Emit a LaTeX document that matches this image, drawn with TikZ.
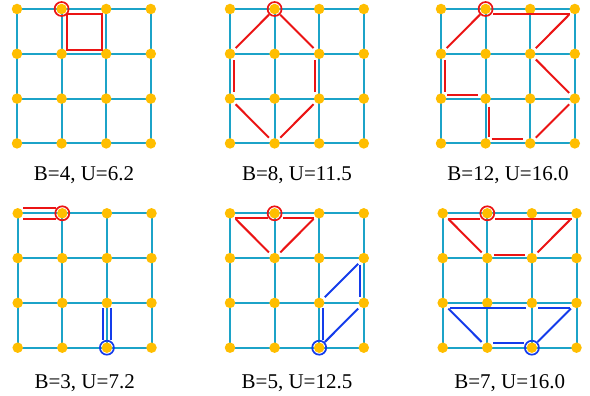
\documentclass[tikz,border=0pt]{standalone}
\usepackage{fontspec}
\setmainfont{Liberation Serif}
\usetikzlibrary{calc,backgrounds}
\definecolor{gridc}{RGB}{28,163,200}
\definecolor{dotc}{RGB}{255,190,0}
\definecolor{redc}{RGB}{235,20,20}
\definecolor{bluec}{RGB}{20,60,235}
\tikzset{
 gridline/.style={gridc, line width=2pt},
 dot/.style={circle, fill=dotc, draw=none, minimum size=10.5pt, inner sep=0pt, outer sep=0pt},
 rl/.style={redc, line width=2pt},
 bl/.style={bluec, line width=2pt},
 startred/.style={circle, draw=redc, line width=1.7pt, minimum size=14pt, inner sep=0pt},
 startblue/.style={circle, draw=bluec, line width=1.7pt, minimum size=14pt, inner sep=0pt},
 lab/.style={anchor=base, font=\fontsize{21}{24}\selectfont, inner sep=0pt},
}
\newcommand\sg[7]{\draw[#1] ($(#2.center)!#6pt!(#3.center)+(#4,#5)$) -- ($(#3.center)!#7pt!(#2.center)+(#4,#5)$);}
\begin{document}
\begin{tikzpicture}[x=1pt,y=-1pt]
\useasboundingbox (0,0) rectangle (590,396);
% dots
\foreach \p/\ox/\oy in {1/17/9,2/230/9,3/441/9,4/17.7/213.3,5/230/213.3,6/442.7/213.3}{
  \foreach \i in {0,...,3}{\foreach \j in {0,...,3}{
     \node[dot] (p\p-\i-\j) at ({\ox+44.6*\i},{\oy+44.8*\j}) {};
  }}
}
% grid lines
\begin{scope}[on background layer]
\foreach \p in {1,...,6}{
  \foreach \a/\b in {0/1,1/2,2/3}{\foreach \k in {0,...,3}{
    \draw[gridline] (p\p-\a-\k.center) -- (p\p-\b-\k.center);
    \draw[gridline] (p\p-\k-\a.center) -- (p\p-\k-\b.center);
  }}
}
\end{scope}
% panel 1
\draw[rl] ($(p1-1-0.center)+(5,5)$) -- ($(p1-2-0.center)+(-4.5,5)$) -- ($(p1-2-1.center)+(-4.5,-4)$) -- ($(p1-1-1.center)+(5,-4)$) -- cycle;
% panel 2
\sg{rl}{p2-1-0}{p2-0-1}{0}{0}{8}{8}
\sg{rl}{p2-0-1}{p2-0-2}{4}{0}{6.5}{6.5}
\sg{rl}{p2-0-2}{p2-1-3}{0}{0}{8}{8}
\sg{rl}{p2-1-3}{p2-2-2}{0}{0}{8}{8}
\sg{rl}{p2-2-2}{p2-2-1}{-4}{0}{6.5}{6.5}
\sg{rl}{p2-2-1}{p2-1-0}{0}{0}{8}{8}
% panel 3
\sg{rl}{p3-1-0}{p3-0-1}{0}{0}{8}{8}
\sg{rl}{p3-0-1}{p3-0-2}{4}{0}{6}{7}
\sg{rl}{p3-0-2}{p3-1-2}{0}{-4}{6}{8}
\sg{rl}{p3-1-2}{p3-1-3}{3.5}{0}{8}{6}
\sg{rl}{p3-1-3}{p3-2-3}{0}{-4}{6}{7}
\sg{rl}{p3-2-3}{p3-3-2}{0}{0}{8}{8}
\sg{rl}{p3-3-2}{p3-2-1}{0}{0}{8}{8}
\sg{rl}{p3-2-1}{p3-3-0}{0}{0}{8}{8}
\sg{rl}{p3-3-0}{p3-1-0}{0}{5.5}{5}{7.5}
% panel 4
\sg{rl}{p4-0-0}{p4-1-0}{0}{-5}{5.5}{6.5}
\sg{rl}{p4-0-0}{p4-1-0}{0}{5.5}{5.5}{6.5}
\sg{bl}{p4-2-2}{p4-2-3}{-4}{0}{5.5}{7.5}
\sg{bl}{p4-2-2}{p4-2-3}{4.3}{0}{5.5}{7.5}
% panel 5
\sg{rl}{p5-0-0}{p5-1-0}{0}{5}{5}{7}
\sg{rl}{p5-1-0}{p5-2-0}{0}{5}{8.5}{5}
\sg{rl}{p5-2-0}{p5-1-1}{0}{0}{8}{8}
\sg{rl}{p5-1-1}{p5-0-0}{0}{0}{8}{8}
\sg{bl}{p5-2-3}{p5-2-2}{4}{0}{7.5}{5.5}
\sg{bl}{p5-2-2}{p5-3-1}{0}{0}{8}{8}
\sg{bl}{p5-3-1}{p5-3-2}{-4}{0}{6.5}{5.5}
\sg{bl}{p5-3-2}{p5-2-3}{0}{0}{8}{8}
% panel 6
\sg{rl}{p6-1-0}{p6-3-0}{0}{6}{8}{5}
\sg{rl}{p6-3-0}{p6-2-1}{0}{0}{8}{8}
\sg{rl}{p6-2-1}{p6-1-1}{0}{-3.5}{6.5}{6.5}
\sg{rl}{p6-1-1}{p6-0-0}{0}{0}{8}{8}
\sg{rl}{p6-0-0}{p6-1-0}{0}{6}{5}{7}
\sg{bl}{p6-2-3}{p6-3-2}{0}{0}{8}{8}
\sg{bl}{p6-3-2}{p6-2-2}{0}{5.5}{7}{6}
\sg{bl}{p6-2-2}{p6-0-2}{0}{5.5}{5.7}{7.3}
\sg{bl}{p6-0-2}{p6-1-3}{0}{0}{8}{8}
\sg{bl}{p6-1-3}{p6-2-3}{0}{-5}{5.5}{7.5}
% start markers
\foreach \p in {1,...,6}{\node[startred] (s\p) at (p\p-1-0) {};}
\foreach \p in {4,5,6}{\node[startblue] (t\p) at (p\p-2-3) {};}
% labels
\node[lab] (l1) at (84,180) {B=4, U=6.2};
\node[lab] (l2) at (297,180) {B=8, U=11.5};
\node[lab] (l3) at (508,180) {B=12, U=16.0};
\node[lab] (l4) at (84.7,388) {B=3, U=7.2};
\node[lab] (l5) at (297,388) {B=5, U=12.5};
\node[lab] (l6) at (509.7,388) {B=7, U=16.0};
\end{tikzpicture}
\end{document}
